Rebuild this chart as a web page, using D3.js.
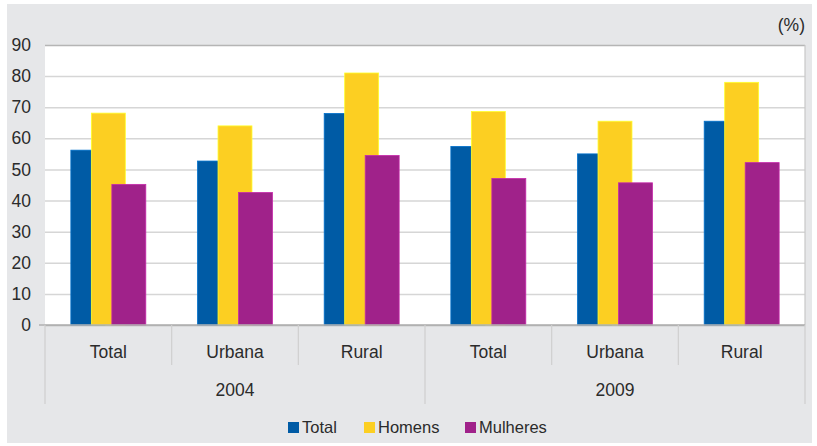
<!DOCTYPE html>
<html><head><meta charset="utf-8">
<script src="https://cdn.jsdelivr.net/npm/d3@7"></script>
<style>body{margin:0;background:#fff}svg{display:block;font-family:"Liberation Sans",Arial,sans-serif}</style>
</head><body><svg id="c" width="817" height="446"></svg>
<script>
const categories = ["Total","Urbana","Rural","Total","Urbana","Rural"];
const years = ["2004","2009"];
const seriesNames = ["Total","Homens","Mulheres"];
const seriesColors = ["#005BA5","#FCCF22","#A0228A"];
const totalValues = [56.2,52.7,68.0,57.4,55.0,65.5];
const homensValues = [68.1,64.0,81.0,68.6,65.5,78.0];
const mulheresValues = [45.2,42.6,54.5,47.1,45.7,52.2];
const yTicks = [0,10,20,30,40,50,60,70,80,90];
const unitLabel = "(%)";

const seriesValues = [totalValues, homensValues, mulheresValues];
const svg = d3.select("#c");
const L = 45, R = 805, T = 45, B = 325;

svg.append("rect").attr("x",7).attr("y",4).attr("width",805).attr("height",439).attr("fill","#e6e7e9");
svg.append("rect").attr("x",L).attr("y",T).attr("width",R-L).attr("height",B-T).attr("fill","#fff");

const x = d3.scaleBand().domain(d3.range(categories.length)).range([L,R]).padding(0);
const y = d3.scaleLinear().domain([0,90]).range([B,T]);
const off = d3.scalePoint().domain(d3.range(seriesNames.length)).range([-20.5,20.5]);
const bw = x.bandwidth()*0.268;

// gridlines
const yAxis = d3.axisLeft(y).tickValues(yTicks).tickSize(6).tickPadding(9);
const gy = svg.append("g").attr("transform",`translate(${L},0)`).call(yAxis);
gy.select(".domain").remove();
gy.selectAll(".tick line").attr("stroke","#d6d6d6").attr("stroke-width",1.5).attr("x2",R-L);
gy.selectAll(".tick text").attr("font-size",17.5).attr("fill","#2b2b2b").attr("font-family","Liberation Sans, Arial, sans-serif").attr("x",-14);
gy.selectAll(".tick line").filter(d=>d===0||d===90).attr("stroke","#b5b5b5");

svg.append("line").attr("x1",R).attr("x2",R).attr("y1",T).attr("y2",B).attr("stroke","#c8c8c8").attr("stroke-width",1.2);

// bars
seriesNames.forEach((s,si)=>{
  svg.append("g").selectAll("rect").data(seriesValues[si]).join("rect")
    .attr("x",(d,i)=>x(i)+x.bandwidth()/2+off(si)-bw/2)
    .attr("width",bw)
    .attr("y",d=>y(d)).attr("height",d=>B-y(d))
    .attr("fill",seriesColors[si])
    .attr("stroke",d3.color(seriesColors[si]).brighter(0.6)).attr("stroke-width",0.8);
});

// zero line
svg.append("line").attr("x1",L-6).attr("x2",R).attr("y1",B).attr("y2",B).attr("stroke","#b0b0b0").attr("stroke-width",1.5);

// category axis separators
const gc = svg.append("g");
d3.range(categories.length+1).forEach(i=>{
  const xx = i<categories.length ? x(i) : R;
  const long = i%3===0;
  gc.append("line").attr("x1",xx).attr("x2",xx).attr("y1",B).attr("y2",long?404:365)
    .attr("stroke","#cfcfcf").attr("stroke-width",1.2);
});
gc.selectAll("text.cat").data(categories).join("text").attr("class","cat")
  .attr("x",(d,i)=>x(i)+x.bandwidth()/2).attr("y",358)
  .attr("text-anchor","middle").attr("font-size",17.5).attr("fill","#2b2b2b").text(d=>d);
gc.selectAll("text.yr").data(years).join("text").attr("class","yr")
  .attr("x",(d,i)=>(x(i*3)+ (i*3+3<categories.length?x(i*3+3):R))/2).attr("y",396)
  .attr("text-anchor","middle").attr("font-size",17.5).attr("fill","#2b2b2b").text(d=>d);

svg.append("text").attr("x",805).attr("y",31).attr("text-anchor","end")
  .attr("font-size",17.5).attr("fill","#2b2b2b").text(unitLabel);

// legend
const legX = [288, 364, 465];
const lg = svg.append("g");
seriesNames.forEach((s,i)=>{
  lg.append("rect").attr("x",legX[i]).attr("y",422).attr("width",11).attr("height",11).attr("fill",seriesColors[i]);
  lg.append("text").attr("x",legX[i]+14).attr("y",433).attr("font-size",16.5).attr("fill","#2b2b2b").text(s);
});
</script></body></html>
